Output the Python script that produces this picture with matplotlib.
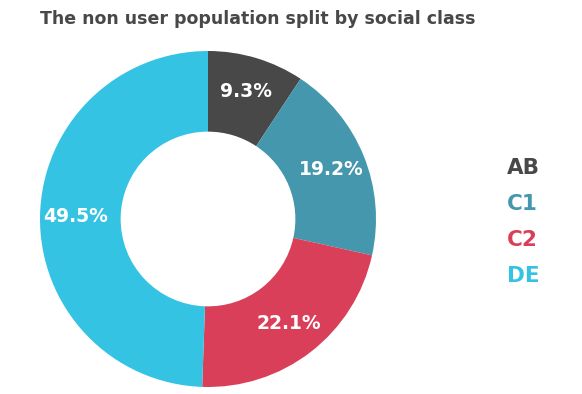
import matplotlib
matplotlib.use("Agg")
import matplotlib.pyplot as plt

classes = ["AB", "C1", "C2", "DE"]
shares = [9.3, 19.2, 22.1, 49.5]
colors = ["#484848", "#4597ad", "#da3f5a", "#35c3e4"]
title = "The non user population split by social class"

fig = plt.figure(figsize=(5.82, 3.94), dpi=100)
fig.text(258/582, 0.952, title, ha="center", va="center", fontsize=12.5,
         fontweight="bold", color="#484848")

ax = fig.add_axes([40/582, 7/394, 336/582, 336/394])
wedges, _, autotexts = ax.pie(shares, colors=colors, startangle=90, counterclock=False,
                              radius=1, wedgeprops=dict(width=0.48, edgecolor="none"),
                              autopct="%.1f%%", pctdistance=0.79)
for t in autotexts:
    t.set_color("white"); t.set_fontsize(13.5); t.set_fontweight("bold")
ax.set_xlim(-1, 1); ax.set_ylim(-1, 1); ax.set_aspect("equal")

for i, (c, col) in enumerate(zip(classes, colors)):
    fig.text(507/582, (394 - 168 - i*36)/394, c, ha="left", va="center",
             fontsize=15.5, fontweight="bold", color=col)

plt.savefig("out.png", dpi=100)
